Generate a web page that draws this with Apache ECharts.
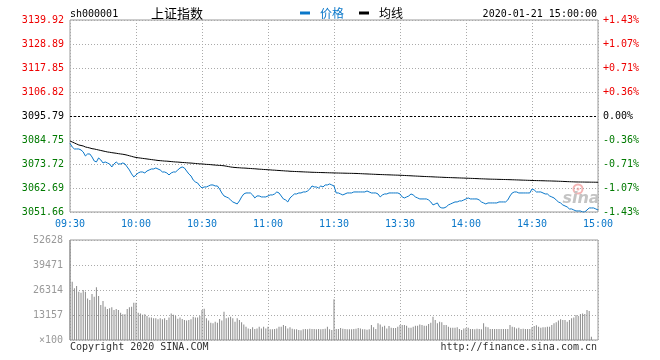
<!DOCTYPE html>
<html>
<head>
<meta charset="utf-8">
<script src="https://cdn.jsdelivr.net/npm/echarts@6/dist/echarts.min.js"></script>
<style>html,body{margin:0;padding:0;background:#fff}#c{width:660px;height:360px}</style>
</head>
<body>
<div id="c"></div>
<script>
// ---- data ----
const prevClose = 3095.79;
const priceTicks = ['3051.66','3062.69','3073.72','3084.75','3095.79','3106.82','3117.85','3128.89','3139.92'];
const pctTicks = ['-1.43%','-1.07%','-0.71%','-0.36%','0.00%','+0.36%','+0.71%','+1.07%','+1.43%'];
const volTicks = ['\u00d7100','13157','26314','39471','52628'];
const volMax = 52628;

const prices = [
3083.20,3081.55,3080.63,3080.63,3080.63,3080.17,3079.26,3077.42,3078.34,3078.34,
3076.96,3075.12,3074.66,3076.50,3075.58,3074.20,3074.66,3074.20,3073.74,3072.36,
3073.74,3074.66,3073.74,3073.74,3074.20,3073.74,3072.36,3070.98,3069.15,3067.77,
3068.69,3069.61,3070.06,3070.06,3069.61,3070.52,3070.98,3071.44,3071.44,3071.90,
3071.44,3070.98,3070.06,3070.06,3069.61,3068.69,3069.61,3070.06,3070.06,3070.98,
3071.90,3072.36,3071.90,3070.52,3069.15,3068.23,3066.39,3065.47,3065.01,3063.63,
3062.71,3063.17,3063.17,3063.63,3064.09,3064.09,3063.63,3063.63,3062.25,3060.41,
3059.04,3058.58,3058.12,3057.20,3056.28,3055.82,3055.36,3056.74,3058.58,3059.95,
3060.41,3060.41,3060.41,3059.50,3058.12,3059.04,3059.04,3058.58,3058.58,3058.58,
3059.04,3059.50,3059.50,3059.95,3060.87,3060.41,3059.04,3057.66,3057.20,3056.28,
3058.12,3059.04,3059.95,3059.95,3060.41,3060.41,3060.87,3060.87,3061.33,3062.25,
3063.63,3063.17,3063.17,3062.71,3063.63,3063.17,3064.09,3064.09,3064.55,3064.09,
3063.63,3060.41,3060.41,3059.95,3059.50,3059.95,3060.41,3060.41,3060.41,3060.87,
3060.87,3060.87,3060.87,3060.87,3060.87,3061.33,3060.87,3060.41,3060.41,3060.41,
3059.95,3058.58,3059.50,3059.95,3059.95,3060.41,3060.41,3060.41,3060.41,3060.41,
3059.95,3058.58,3058.12,3058.58,3059.04,3059.95,3059.50,3058.58,3058.12,3057.66,
3057.66,3057.66,3057.66,3057.20,3056.28,3054.90,3055.36,3055.82,3053.98,3053.52,
3053.52,3053.98,3054.90,3055.36,3055.82,3056.28,3056.28,3056.74,3056.74,3057.20,
3057.66,3058.12,3057.66,3057.66,3057.66,3057.66,3057.20,3056.28,3055.82,3055.36,
3055.82,3055.82,3055.82,3055.82,3055.82,3056.28,3056.28,3056.28,3056.28,3057.20,
3059.04,3060.41,3060.87,3060.87,3060.41,3060.41,3060.41,3060.41,3060.41,3060.41,
3062.25,3061.79,3060.87,3060.87,3060.87,3060.41,3059.95,3059.95,3059.04,3058.58,
3058.12,3057.20,3056.28,3055.82,3054.90,3054.44,3053.98,3053.06,3053.06,3052.60,
3052.14,3052.14,3052.14,3051.68,3051.70,3052.60,3053.52,3053.52,3053.52,3053.06,
3052.60
];

const avgPrices = [
3084.31,3083.85,3083.39,3082.93,3082.47,3082.24,3082.01,3081.55,3081.32,3081.09,
3080.77,3080.63,3080.40,3080.17,3079.94,3079.71,3079.49,3079.26,3079.12,3078.94,
3078.80,3078.66,3078.48,3078.34,3078.20,3078.02,3077.79,3077.51,3077.24,3076.96,
3076.73,3076.59,3076.45,3076.31,3076.18,3076.04,3075.90,3075.76,3075.63,3075.49,
3075.35,3075.26,3075.17,3075.07,3075.03,3074.94,3074.84,3074.75,3074.66,3074.61,
3074.52,3074.43,3074.38,3074.29,3074.20,3074.15,3074.06,3073.97,3073.88,3073.78,
3073.74,3073.65,3073.55,3073.51,3073.42,3073.32,3073.23,3073.14,3073.09,3073.00,
3072.91,3072.73,3072.54,3072.36,3072.22,3072.13,3072.04,3071.99,3071.90,3071.86,
3071.81,3071.72,3071.67,3071.58,3071.53,3071.44,3071.35,3071.30,3071.21,3071.16,
3071.07,3071.03,3070.93,3070.89,3070.80,3070.75,3070.66,3070.61,3070.52,3070.48,
3070.38,3070.34,3070.29,3070.25,3070.20,3070.15,3070.11,3070.06,3070.02,3069.97,
3069.92,3069.89,3069.86,3069.83,3069.80,3069.77,3069.74,3069.71,3069.68,3069.65,
3069.61,3069.59,3069.57,3069.54,3069.52,3069.50,3069.47,3069.45,3069.43,3069.40,
3069.38,3069.33,3069.29,3069.24,3069.19,3069.15,3069.10,3069.06,3069.01,3068.97,
3068.92,3068.88,3068.85,3068.81,3068.77,3068.74,3068.70,3068.66,3068.62,3068.59,
3068.55,3068.50,3068.45,3068.40,3068.35,3068.30,3068.24,3068.19,3068.14,3068.09,
3068.04,3067.99,3067.95,3067.90,3067.86,3067.81,3067.76,3067.72,3067.67,3067.63,
3067.58,3067.54,3067.50,3067.47,3067.43,3067.39,3067.36,3067.32,3067.28,3067.25,
3067.21,3067.17,3067.13,3067.09,3067.05,3067.01,3066.96,3066.92,3066.88,3066.84,
3066.80,3066.77,3066.74,3066.72,3066.69,3066.66,3066.63,3066.60,3066.58,3066.55,
3066.52,3066.48,3066.45,3066.41,3066.38,3066.34,3066.30,3066.27,3066.23,3066.20,
3066.16,3066.13,3066.10,3066.08,3066.05,3066.02,3065.99,3065.96,3065.94,3065.91,
3065.88,3065.84,3065.80,3065.76,3065.72,3065.68,3065.63,3065.59,3065.55,3065.51,
3065.47,3065.46,3065.44,3065.43,3065.41,3065.40,3065.39,3065.37,3065.36,3065.34,
3065.33
];

const volumes = [
52628,30700,27200,28400,25400,24900,26300,25400,21900,21000,
24200,22800,27700,23200,18400,20500,17500,16300,16700,17200,
15800,16300,15800,14400,13500,13500,16300,17200,17500,19600,
19600,14400,14000,13300,13500,12600,11900,11800,11400,11400,
10900,11400,10900,11400,10500,11900,14000,13300,12600,11200,
11900,11100,10500,10200,10500,10900,12300,11900,11900,12600,
15800,16500,11400,10200,9100,8800,9600,9100,11100,10200,
14900,11400,11900,12300,11400,9600,11400,10500,9300,8200,
7000,6100,5800,6700,5800,6100,7000,6100,7000,6100,
7000,5600,5600,5800,6100,7000,7000,7900,7400,6100,
6700,5900,5600,5600,5300,5100,5600,5800,5600,5900,
5800,5800,5600,5800,5600,5800,5900,7000,5600,5300,
21400,5800,5800,6300,5900,5800,5600,5600,5600,5800,
5900,6300,6100,5600,5600,5400,5600,7900,6700,5800,
8800,8200,7000,7500,6100,7400,6500,6300,6300,7000,
7900,7900,7900,7500,6500,6500,7000,7500,7500,8200,
7900,7500,7500,8400,9100,12300,10500,8800,9600,9300,
7900,7900,7000,6500,6500,6500,6700,5800,5300,6100,
6300,6500,5800,5800,5600,5900,5800,5600,8800,7000,
6700,5800,5800,5800,5800,5800,5800,5800,5800,5800,
7900,7000,6700,6100,6500,5800,5900,5800,5800,5800,
6700,7400,7700,7000,6500,6700,6700,7000,7000,7900,
8800,9300,10200,10900,10500,10500,9600,10500,11400,11900,
13200,12600,13700,14000,13700,15800,15300,1700,0,0,
0
];

// minute categories 09:30-11:30, 13:01-15:00
const times = [];
function pad(n){return (n<10?'0':'')+n;}
for (let t = 9*60+30; t <= 11*60+30; t++) times.push(pad(Math.floor(t/60))+':'+pad(t%60));
for (let t = 13*60+1; t <= 15*60; t++) times.push(pad(Math.floor(t/60))+':'+pad(t%60));

// price axis in "tick steps" from previous close (axis from -4 to 4)
const step = (parseFloat(priceTicks[8]) - parseFloat(priceTicks[0])) / 8;
const toStep = p => (p - prevClose) / step;

const MONO = '"DejaVu Sans Mono", "Liberation Mono", monospace';
const CJK = '"Noto Sans CJK SC", sans-serif';
const BLUE = '#0a77c9';
const RED = '#ee0000';
const GREEN = '#007a00';
const GRIDC = '#aaaaaa';
const BORDER = '#9a9a9a';

function sideColor(v){ return v > 0.01 ? RED : (v < -0.01 ? GREEN : '#000'); }

const chart = echarts.init(document.getElementById('c'), null, {renderer: 'canvas'});
const dotted = {color: GRIDC, width: 1, type: [1, 2]};

chart.setOption({
  animation: false,
  backgroundColor: '#fff',
  textStyle: {fontFamily: MONO},
  grid: [
    {left: 70, right: 62, top: 20, height: 192, show: true, borderColor: BORDER, borderWidth: 1, backgroundColor: 'transparent'},
    {left: 70, right: 62, top: 240, height: 100, show: true, borderColor: BORDER, borderWidth: 1, backgroundColor: 'transparent'}
  ],
  legend: {
    left: 295, top: 2, icon: 'rect', itemWidth: 10, itemHeight: 3, itemGap: 15,
    data: [
      {name: '价格', textStyle: {color: BLUE}},
      {name: '均线', textStyle: {color: '#000'}}
    ],
    textStyle: {fontFamily: CJK, fontSize: 12, padding: [0, 0, 0, 5]},
    selectedMode: false
  },
  xAxis: [
    {type: 'category', gridIndex: 0, data: times, boundaryGap: false,
     axisLine: {show: false}, axisTick: {show: false},
     axisLabel: {interval: 29, color: BLUE, fontFamily: MONO, fontSize: 10, margin: 7},
     splitLine: {show: true, interval: 29, lineStyle: dotted}},
    {type: 'category', gridIndex: 1, data: times, boundaryGap: false,
     axisLine: {show: false}, axisTick: {show: false}, axisLabel: {show: false},
     splitLine: {show: true, interval: 29, lineStyle: dotted}}
  ],
  yAxis: [
    {type: 'value', gridIndex: 0, position: 'left', min: -4, max: 4, interval: 1,
     axisLine: {show: false}, axisTick: {show: false},
     axisLabel: {formatter: v => priceTicks[Math.round(v) + 4], color: v => sideColor(v),
                 fontFamily: MONO, fontSize: 10, margin: 6},
     splitLine: {show: true, lineStyle: dotted}},
    {type: 'value', gridIndex: 0, position: 'right', min: -4, max: 4, interval: 1,
     axisLine: {show: false}, axisTick: {show: false},
     axisLabel: {formatter: v => pctTicks[Math.round(v) + 4], color: v => sideColor(v),
                 fontFamily: MONO, fontSize: 10, margin: 5},
     splitLine: {show: false}},
    {type: 'value', gridIndex: 1, position: 'left', min: 0, max: volMax, interval: volMax / 4,
     axisLine: {show: false}, axisTick: {show: false},
     axisLabel: {formatter: v => volTicks[Math.round(v / (volMax / 4))], color: '#999',
                 fontFamily: MONO, fontSize: 10, margin: 7},
     splitLine: {show: true, lineStyle: dotted}}
  ],
  graphic: [
    {type: 'text', x: 70, y: 14, z: 10, style: {text: 'sh000001', font: '10px ' + MONO, fill: '#000', textAlign: 'left', textVerticalAlign: 'middle'}},
    {type: 'text', x: 177, y: 13, z: 10, style: {text: '上证指数', font: '13px ' + CJK, fill: '#000', textAlign: 'center', textVerticalAlign: 'middle'}},
    {type: 'text', x: 597, y: 14, z: 10, style: {text: '2020-01-21 15:00:00', font: '10px ' + MONO, fill: '#000', textAlign: 'right', textVerticalAlign: 'middle'}},
    {type: 'text', x: 70, y: 347, z: 10, style: {text: 'Copyright 2020 SINA.COM', font: '10px ' + MONO, fill: '#333', textAlign: 'left', textVerticalAlign: 'middle'}},
    {type: 'text', x: 597, y: 347, z: 10, style: {text: 'http://finance.sina.com.cn', font: '10px ' + MONO, fill: '#333', textAlign: 'right', textVerticalAlign: 'middle'}},
    {type: 'circle', z: 0, shape: {cx: 578, cy: 189, r: 4.5}, style: {fill: 'none', stroke: '#f4b4b4', lineWidth: 2}},
    {type: 'circle', z: 0, shape: {cx: 578, cy: 189, r: 1.5}, style: {fill: '#f4b4b4'}},
    {type: 'text', x: 581, y: 199, z: 0, style: {text: 'sina', font: 'italic bold 16px "DejaVu Sans", sans-serif', fill: '#c4c4c4', textAlign: 'center', textVerticalAlign: 'middle'}}
  ],
  series: [
    {name: '价格', type: 'line', xAxisIndex: 0, yAxisIndex: 0, data: prices.map(toStep),
     showSymbol: false, symbol: 'none', color: BLUE, lineStyle: {color: BLUE, width: 1}, z: 4,
     markLine: {silent: true, symbol: 'none', label: {show: false},
                lineStyle: {color: '#000', width: 1, type: [2, 2]}, data: [{yAxis: 0}]}},
    {name: '均线', type: 'line', xAxisIndex: 0, yAxisIndex: 0, data: avgPrices.map(toStep),
     showSymbol: false, symbol: 'none', color: '#000', lineStyle: {color: '#000', width: 1}, z: 3},
    {name: '成交量', type: 'bar', xAxisIndex: 1, yAxisIndex: 2, data: volumes,
     barWidth: 1, itemStyle: {color: '#8a8a8a'}, z: 3}
  ]
});
</script>
</body>
</html>
